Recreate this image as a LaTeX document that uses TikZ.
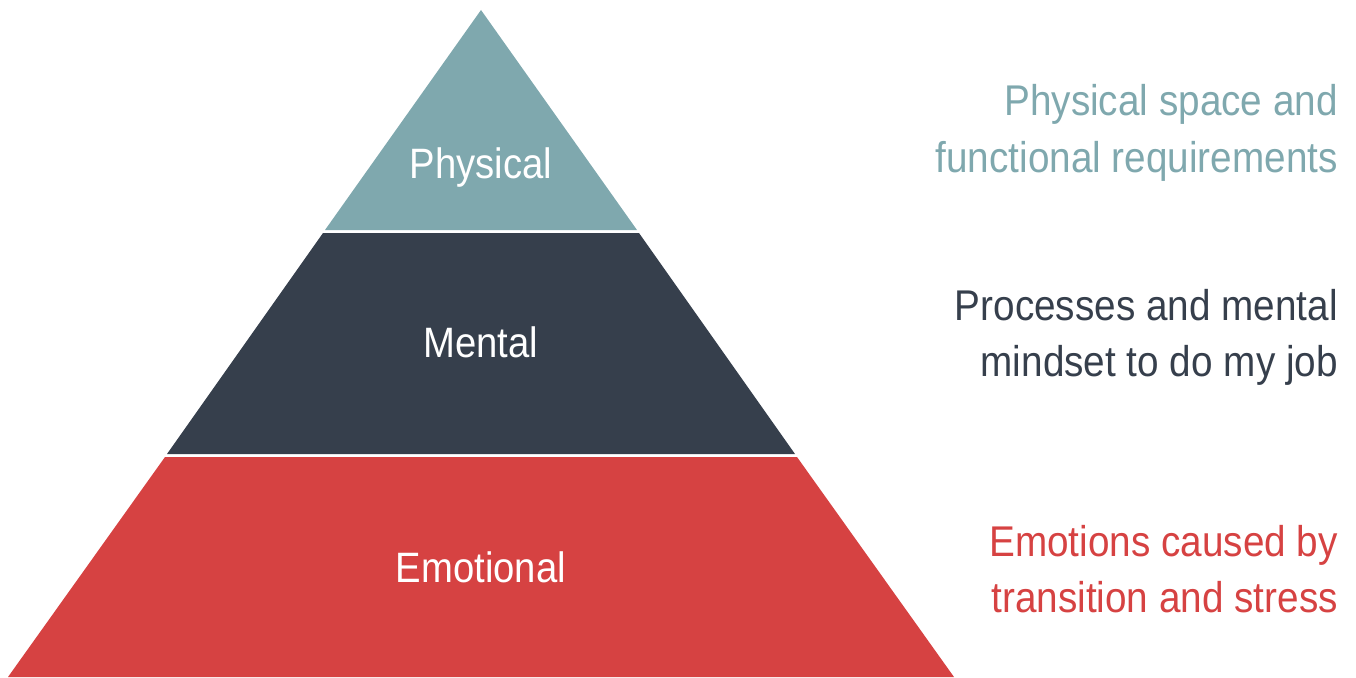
\documentclass[tikz,border=0pt]{standalone}
\usepackage{fontspec}
\setmainfont{Liberation Sans}[FakeStretch=0.9]
\definecolor{teal}{HTML}{7FA8AE}
\definecolor{slate}{HTML}{363F4C}
\definecolor{brick}{HTML}{D64242}
\begin{document}
\begin{tikzpicture}[x=1pt,y=-1pt,
  layerlabel/.style={text=white,font=\fontsize{42.5}{42.5}\selectfont,anchor=base,inner sep=0pt},
  sidetext/.style={font=\fontsize{43}{43}\selectfont,anchor=base east,inner sep=0pt}]
\useasboundingbox (0,0) rectangle (1356,677);
% layers
\fill[teal] (481,10) -- (637,230) -- (325,230) -- cycle;
\fill[slate] (323,233) -- (639,233) -- (795,454) -- (167,454) -- cycle;
\fill[brick] (165,457) -- (797,457) -- (954,677) -- (8,677) -- cycle;
% labels inside
\node[layerlabel] (phys) at (481,178) {Physical};
\node[layerlabel] (ment) at (481,357) {Mental};
\node[layerlabel] (emo) at (481,582) {Emotional};
% side texts
\node[sidetext,text=teal] (p1) at (1338,115) {Physical space and};
\node[sidetext,text=teal] (p2) at (1338,172) {functional requirements};
\node[sidetext,text=slate] (m1) at (1338,320) {Processes and mental};
\node[sidetext,text=slate] (m2) at (1338,376) {mindset to do my job};
\node[sidetext,text=brick] (e1) at (1338,556) {Emotions caused by};
\node[sidetext,text=brick] (e2) at (1338,612) {transition and stress};
\end{tikzpicture}
\end{document}
